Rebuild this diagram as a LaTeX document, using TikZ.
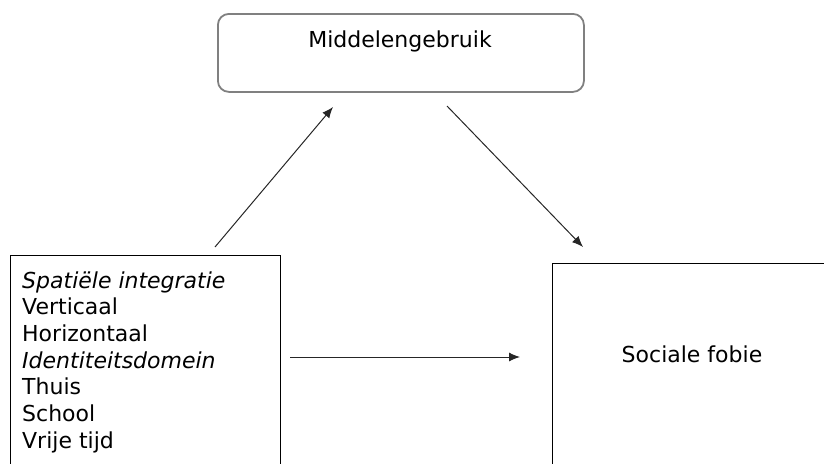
\documentclass[tikz,border=0pt]{standalone}
\usepackage{fontspec}
\setmainfont{DejaVu Sans}
\usetikzlibrary{arrows.meta}
\begin{document}
\begin{tikzpicture}[x=1pt,y=-1pt,
  topbox/.style={draw=black!50, line width=1.8pt, rounded corners=11pt, anchor=north west, inner sep=0pt},
  plainbox/.style={draw=black, line width=1.1pt, anchor=north west, inner sep=0pt},
  txt/.style={font=\fontsize{22}{26.7}\selectfont, inner sep=0pt, anchor=base},
  ltxt/.style={font=\fontsize{22}{26.7}\selectfont, inner sep=0pt, anchor=base west},
  conn/.style={draw=black!85, line width=1pt, -{Latex[length=11pt,width=9pt]}}]
\useasboundingbox (0,0) rectangle (824,463);
\clip (0,0) rectangle (824,463);
% boxes
\node[topbox, minimum width=366pt, minimum height=78pt] (mid) at (217,13) {};
\node[plainbox, minimum width=270pt, minimum height=260pt] (left) at (10,255) {};
\node[plainbox, minimum width=320pt, minimum height=260pt] (right) at (552,263) {};
% texts
\node[txt] (midtxt) at (400,47) {Middelengebruik};
\node[txt] (righttxt) at (692,362) {Sociale fobie};
\node[ltxt] (l1) at (22,288) {\itshape Spatiële integratie};
\node[ltxt] (l2) at (22,314.7) {Verticaal};
\node[ltxt] (l3) at (22,341.4) {Horizontaal};
\node[ltxt] (l4) at (22,368.1) {\itshape Identiteitsdomein};
\node[ltxt] (l5) at (22,394.8) {Thuis};
\node[ltxt] (l6) at (22,421.5) {School};
\node[ltxt] (l7) at (22,448.2) {Vrije tijd};
% connector endpoints
\coordinate (a1s) at (215,247);
\coordinate (a1e) at (333,107);
\coordinate (a2s) at (447,106);
\coordinate (a2e) at (583,247);
\coordinate (a3s) at (290,357);
\coordinate (a3e) at (520,357);
\draw[conn] (a1s) -- (a1e);
\draw[conn] (a2s) -- (a2e);
\draw[conn] (a3s) -- (a3e);
\end{tikzpicture}
\end{document}
